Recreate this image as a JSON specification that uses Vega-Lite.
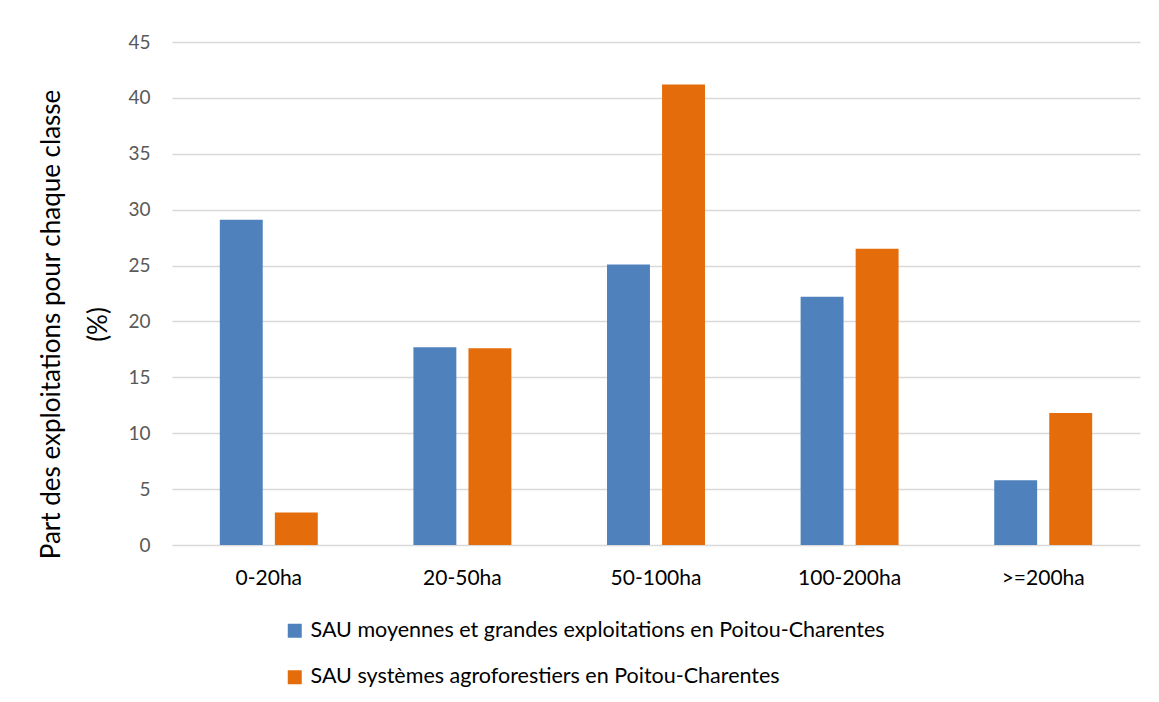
{
  "$schema": "https://vega.github.io/schema/vega-lite/v6.json",
  "autosize": {"type": "none"},
  "width": 968,
  "height": 503,
  "padding": {"left": 172, "top": 42, "right": 19, "bottom": 157},
  "background": "white",
  "config": {
    "font": "Lato",
    "view": {"stroke": null}
  },
  "data": {
    "values": [
      {"classe": "0-20ha", "serie": "SAU moyennes et grandes exploitations en Poitou-Charentes", "valeur": 29.1},
      {"classe": "0-20ha", "serie": "SAU systèmes agroforestiers en Poitou-Charentes", "valeur": 2.9},
      {"classe": "20-50ha", "serie": "SAU moyennes et grandes exploitations en Poitou-Charentes", "valeur": 17.7},
      {"classe": "20-50ha", "serie": "SAU systèmes agroforestiers en Poitou-Charentes", "valeur": 17.6},
      {"classe": "50-100ha", "serie": "SAU moyennes et grandes exploitations en Poitou-Charentes", "valeur": 25.1},
      {"classe": "50-100ha", "serie": "SAU systèmes agroforestiers en Poitou-Charentes", "valeur": 41.2},
      {"classe": "100-200ha", "serie": "SAU moyennes et grandes exploitations en Poitou-Charentes", "valeur": 22.2},
      {"classe": "100-200ha", "serie": "SAU systèmes agroforestiers en Poitou-Charentes", "valeur": 26.5},
      {"classe": ">=200ha", "serie": "SAU moyennes et grandes exploitations en Poitou-Charentes", "valeur": 5.8},
      {"classe": ">=200ha", "serie": "SAU systèmes agroforestiers en Poitou-Charentes", "valeur": 11.8}
    ]
  },
  "mark": {"type": "bar"},
  "encoding": {
    "x": {
      "field": "classe",
      "type": "nominal",
      "sort": null,
      "scale": {"paddingInner": 0.494, "paddingOuter": 0.247},
      "axis": {
        "title": null,
        "labelAngle": 0,
        "labelFontSize": 21,
        "labelColor": "#000000",
        "labelPadding": 22,
        "ticks": false,
        "domain": false
      }
    },
    "xOffset": {
      "field": "serie",
      "type": "nominal",
      "scale": {"paddingInner": 0.22, "paddingOuter": 0}
    },
    "y": {
      "field": "valeur",
      "type": "quantitative",
      "scale": {"domain": [0, 45], "nice": false},
      "axis": {
        "values": [0, 5, 10, 15, 20, 25, 30, 35, 40, 45],
        "title": ["Part des exploitations pour chaque classe", "(%)"],
        "titleFontSize": 26,
        "titleFontWeight": "normal",
        "titleColor": "#000000",
        "titleY": 282,
        "titlePadding": 16,
        "titleLineHeight": 47,
        "labelFontSize": 19,
        "labelColor": "#595959",
        "labelPadding": 22,
        "ticks": false,
        "domain": false,
        "grid": true,
        "gridColor": "#d9d9d9",
        "gridWidth": 1.5
      }
    },
    "color": {
      "field": "serie",
      "type": "nominal",
      "scale": {
        "domain": ["SAU moyennes et grandes exploitations en Poitou-Charentes", "SAU systèmes agroforestiers en Poitou-Charentes"],
        "range": ["#4f81bd", "#e46c0a"]
      },
      "legend": {
        "title": null,
        "orient": "none",
        "legendX": 112,
        "legendY": 578,
        "direction": "vertical",
        "symbolType": "square",
        "symbolSize": 196,
        "symbolStrokeWidth": 0,
        "labelFontSize": 21.5,
        "labelColor": "#000000",
        "labelLimit": 900,
        "rowPadding": 23.5,
        "labelOffset": 5
      }
    }
  }
}
